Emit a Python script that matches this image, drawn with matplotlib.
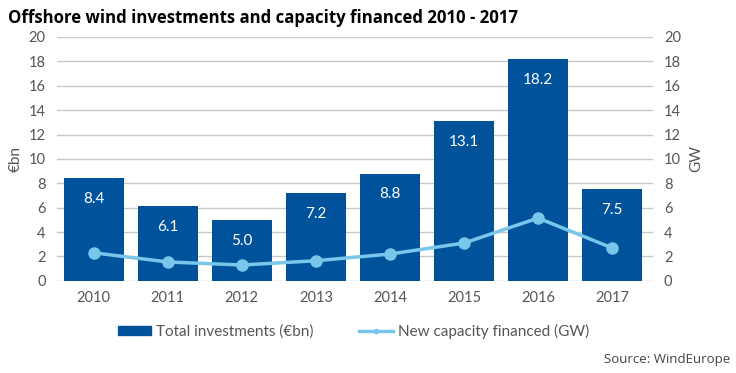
import matplotlib.pyplot as plt
from matplotlib.lines import Line2D
from matplotlib.patches import Patch

years = ["2010", "2011", "2012", "2013", "2014", "2015", "2016", "2017"]
investments = [8.4, 6.1, 5.0, 7.2, 8.8, 13.1, 18.2, 7.5]  # EUR bn
capacity = [2.3, 1.55, 1.3, 1.65, 2.2, 3.1, 5.15, 2.7]  # GW
yticks = [0, 2, 4, 6, 8, 10, 12, 14, 16, 18, 20]

bar_col = '#00539b'
line_col = '#78c6e9'
txt_col = '#555555'
grid_col = '#c8c8c8'

plt.rcParams['font.family'] = ['Lato', 'DejaVu Sans']

fig = plt.figure(figsize=(7.36, 3.73), dpi=100)
ax = fig.add_axes([0.077, 0.247, 0.81, 0.654])
ax2 = ax.twinx()

x = list(range(len(years)))
bars = ax.bar(x, investments, width=0.81, color=bar_col, zorder=2)
for xi, v in zip(x, investments):
    ax.annotate(f"{v:.1f}", (xi, v), xytext=(0, -15), textcoords='offset points',
                ha='center', va='center', color='white', fontsize=11, zorder=3)

ax2.plot(x, capacity, color=line_col, lw=2.5, marker='o', ms=8, zorder=4)

for a in (ax, ax2):
    a.set_ylim(0, 20)
    a.set_yticks(yticks)
    a.set_xlim(-0.5, 7.55)
    for s in a.spines.values():
        s.set_visible(False)
    a.tick_params(axis='y', length=0, labelsize=10.5, labelcolor=txt_col, pad=8)
ax.yaxis.grid(True, color=grid_col, lw=1, zorder=0)
ax.set_axisbelow(True)
ax.set_xticks(x)
ax.set_xticklabels(years)
ax.tick_params(axis='x', length=0, labelsize=10.5, labelcolor=txt_col, pad=7)
ax.set_zorder(ax2.get_zorder() - 1)
ax.patch.set_visible(False)
ax2.patch.set_visible(False)
ax2.set_zorder(5)

ax.set_ylabel("€bn", color=txt_col, fontsize=11, labelpad=4)
ax2.set_ylabel("GW", color=txt_col, fontsize=11, labelpad=6)

fig.text(0.011, 0.952, "Offshore wind investments and capacity financed 2010 - 2017",
         fontsize=12.1, fontweight='bold', family=['Open Sans', 'DejaVu Sans'],
         va='center', ha='left', color='black')

handles = [Patch(color=bar_col),
           Line2D([0], [0], color=line_col, lw=2.5, marker='o', ms=3)]
fig.legend(handles, ["Total investments (€bn)", "New capacity financed (GW)"],
           loc='center', bbox_to_anchor=(0.48, 0.112), ncol=2, frameon=False,
           fontsize=11, handlelength=2.2, handleheight=0.6, columnspacing=3,
           handletextpad=0.3, labelcolor=txt_col)

fig.text(0.992, 0.035, "Source: WindEurope", ha='right', va='center',
         fontsize=9.5, color='#444444', family=['Open Sans', 'DejaVu Sans'])

fig.savefig("out.png", dpi=100)
